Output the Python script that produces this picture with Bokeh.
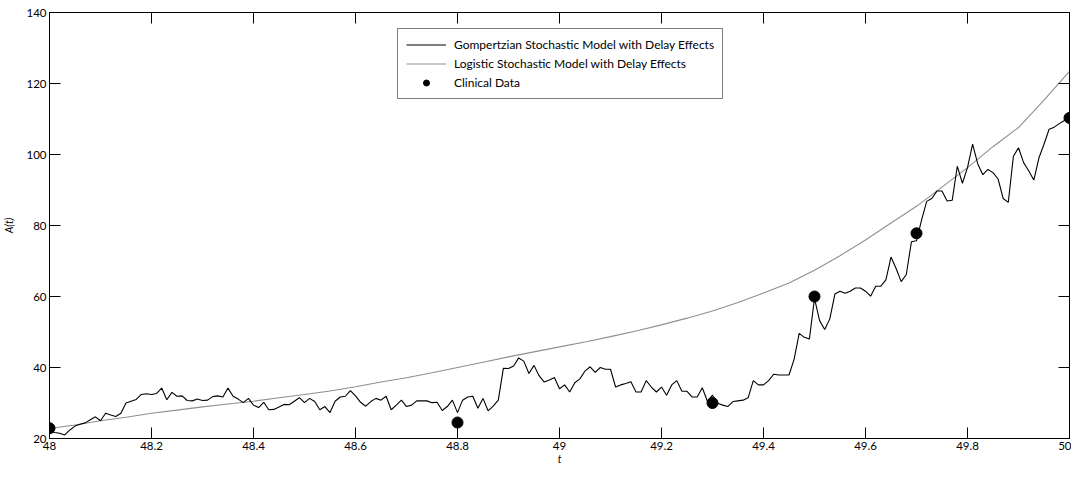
import numpy as np
from bokeh.plotting import figure
from bokeh.models import (LinearAxis, FixedTicker, CustomJSTickFormatter, Legend,
                          LegendItem, Range1d)
from bokeh.embed import file_html
from bokeh.resources import INLINE

# ---------------- data ----------------
gomp_t = np.round(np.arange(48.0, 50.0001, 0.01), 2)
gomp_A = [
    22.0, 21.7, 21.5, 21.0, 22.4, 23.5, 24.0, 24.4, 25.3, 26.1,
    25.0, 27.1, 26.6, 26.2, 27.1, 30.0, 30.5, 31.0, 32.4, 32.6,
    32.4, 32.7, 34.2, 30.9, 33.0, 31.9, 32.0, 30.7, 30.6, 31.1,
    30.7, 30.8, 31.8, 32.0, 31.7, 34.2, 31.9, 31.1, 30.1, 31.3,
    29.4, 28.7, 30.2, 28.1, 28.2, 28.9, 29.6, 29.5, 30.5, 31.5,
    30.1, 31.3, 30.4, 28.1, 29.0, 27.3, 30.5, 31.7, 31.9, 33.5,
    32.0, 30.2, 29.1, 30.4, 31.3, 30.8, 31.9, 28.1, 29.4, 30.8,
    29.0, 29.4, 30.6, 30.6, 30.6, 30.1, 30.2, 27.9, 29.0, 30.8,
    27.3, 30.8, 31.7, 31.9, 28.5, 31.3, 27.8, 29.1, 30.8, 39.8,
    39.7, 40.4, 42.7, 41.8, 38.3, 40.6, 37.7, 35.9, 36.5, 37.2,
    34.0, 35.1, 33.1, 35.7, 36.8, 39.0, 40.2, 38.6, 40.0, 39.5,
    39.5, 34.5, 35.1, 35.5, 36.0, 33.1, 33.1, 36.3, 34.5, 33.1,
    34.5, 32.2, 35.1, 36.3, 33.3, 33.3, 31.7, 31.7, 34.3, 30.5,
    32.2, 29.9, 29.4, 29.0, 30.4, 30.6, 30.8, 31.5, 36.3, 35.1,
    35.1, 36.3, 38.1, 37.9, 37.9, 37.9, 42.3, 49.6, 48.5, 48.0,
    59.5, 53.2, 50.7, 53.7, 60.7, 61.5, 60.9, 61.5, 62.4, 62.4,
    61.5, 60.1, 62.9, 62.9, 64.7, 71.1, 67.9, 64.2, 66.2, 75.4,
    75.7, 81.6, 86.8, 87.6, 89.7, 89.7, 86.9, 87.1, 96.7, 91.9,
    96.3, 102.9, 97.4, 94.3, 95.8, 94.9, 93.1, 87.6, 86.5, 99.5,
    101.9, 97.7, 95.4, 92.8, 99.0, 102.9, 107.1, 107.7, 108.7, 109.6,
    110.7,
]

logi_t = np.round(np.arange(48.0, 50.0001, 0.05), 2)
logi_A = [
    22.8, 23.8, 25.0, 26.0, 27.1, 28.0, 28.9, 29.7, 30.5, 31.5,
    32.4, 33.4, 34.6, 35.9, 37.1, 38.5, 40.0, 41.5, 43.0, 44.4,
    45.8, 47.2, 48.7, 50.3, 52.0, 53.9, 55.9, 58.3, 61.0, 63.8,
    67.4, 71.5, 75.9, 80.7, 85.4, 90.8, 96.3, 102.2, 107.6, 115.3,
    123.4,
]

clin_t = [48.0, 48.8, 49.3, 49.5, 49.7, 50.0]
clin_A = [22.9, 24.5, 30.0, 60.0, 77.8, 110.3]

x_ticks = [48.0, 48.2, 48.4, 48.6, 48.8, 49.0, 49.2, 49.4, 49.6, 49.8, 50.0]
y_ticks = [20, 40, 60, 80, 100, 120, 140]

series_names = ["Gompertzian Stochastic Model with Delay Effects",
                "Logistic Stochastic Model with Delay Effects",
                "Clinical Data"]

# ---------------- figure ----------------
FONT = "Lato"
p = figure(width=1071, height=467, x_range=Range1d(48, 50), y_range=Range1d(20, 140),
           output_backend="svg", toolbar_location=None,
           min_border_left=49, min_border_right=2, min_border_top=12, min_border_bottom=24)
p.xgrid.visible = False
p.ygrid.visible = False
p.outline_line_color = "black"
p.outline_line_width = 1
p.background_fill_color = "white"

fmt = CustomJSTickFormatter(code="return String(Number(tick.toFixed(1)));")
blank = CustomJSTickFormatter(code="return '';")

def style_axis(ax, ticks, labels=True):
    ax.ticker = FixedTicker(ticks=ticks)
    ax.major_tick_in = 11
    ax.major_tick_out = 0
    ax.minor_tick_line_color = None
    ax.axis_line_color = "black"
    ax.major_tick_line_color = "black"
    ax.major_label_text_font = FONT
    ax.major_label_text_color = "black"
    ax.major_label_text_font_size = "11.5px"
    if labels:
        ax.major_label_standoff = 3
    else:
        ax.formatter = blank
        ax.major_label_standoff = 0

style_axis(p.xaxis[0], x_ticks)
p.xaxis[0].formatter = fmt
p.xaxis[0].axis_label = "t"
p.xaxis[0].axis_label_text_font = FONT
p.xaxis[0].axis_label_text_font_style = "italic"
p.xaxis[0].axis_label_text_font_size = "10.5px"
p.xaxis[0].axis_label_text_color = "black"
p.xaxis[0].axis_label_standoff = 0

style_axis(p.yaxis[0], y_ticks)
p.yaxis[0].axis_label = "A(t)"
p.yaxis[0].axis_label_text_font = FONT
p.yaxis[0].axis_label_text_font_style = "italic"
p.yaxis[0].axis_label_text_font_size = "10.5px"
p.yaxis[0].axis_label_text_color = "black"
p.yaxis[0].axis_label_standoff = 8

top = LinearAxis()
style_axis(top, x_ticks, labels=False)
p.add_layout(top, "above")
right = LinearAxis()
style_axis(right, y_ticks, labels=False)
p.add_layout(right, "right")

r_logi = p.line(logi_t, logi_A, line_color="#8f8f8f", line_width=1.1)
r_gomp = p.line(gomp_t, gomp_A, line_color="black", line_width=1.1)
r_clin = p.scatter(clin_t, clin_A, size=11, fill_color="black", line_color="black")

legend = Legend(items=[LegendItem(label=series_names[0], renderers=[r_gomp]),
                       LegendItem(label=series_names[1], renderers=[r_logi]),
                       LegendItem(label=series_names[2], renderers=[r_clin])],
                location=(348, 339))
legend.border_line_color = "black"
legend.border_line_width = 1
legend.background_fill_color = "white"
legend.background_fill_alpha = 1
legend.label_text_font = FONT
legend.label_text_font_size = "12px"
legend.label_text_color = "black"
legend.glyph_width = 40
legend.glyph_height = 15
legend.label_standoff = 8
legend.label_height = 15
legend.spacing = 4
legend.padding = 8
legend.margin = 0
p.add_layout(legend)

open("out.html", "w").write(file_html(p, INLINE))
